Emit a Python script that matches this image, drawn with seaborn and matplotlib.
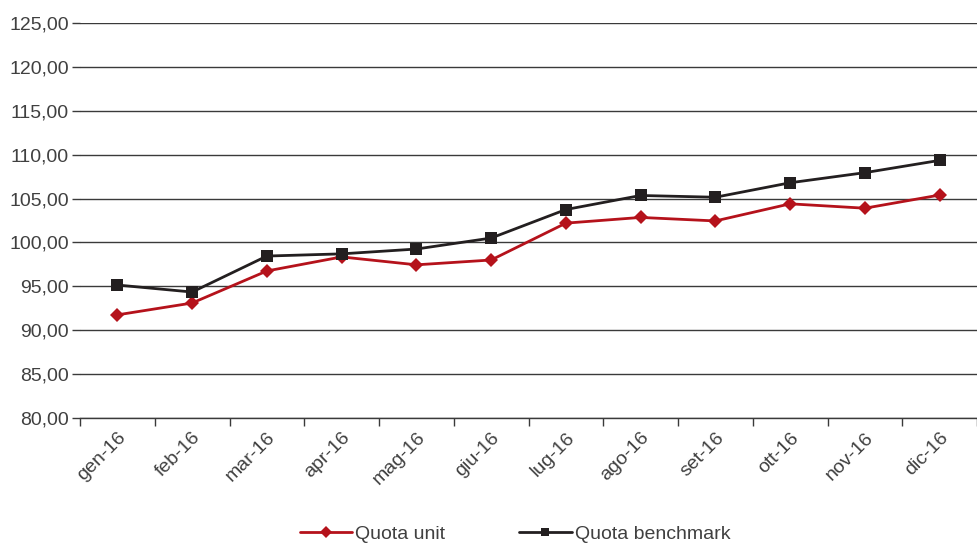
import pandas as pd
import numpy as np
import matplotlib
matplotlib.use('Agg')
import matplotlib.pyplot as plt
import matplotlib.ticker as mticker
import seaborn as sns

sns.set_theme(style='white')
plt.rcParams['font.family'] = ['Liberation Sans', 'DejaVu Sans']

# ── data ───────────────────────────────────────────────────────────────────────
months = ['gen-16', 'feb-16', 'mar-16', 'apr-16', 'mag-16', 'giu-16',
          'lug-16', 'ago-16', 'set-16', 'ott-16', 'nov-16', 'dic-16']
quota_unit = [91.75, 93.1, 96.75, 98.35, 97.45, 98.0,
              102.2, 102.85, 102.45, 104.4, 103.9, 105.4]
quota_bench = [95.15, 94.35, 98.45, 98.7, 99.25, 100.5,
               103.75, 105.35, 105.15, 106.8, 107.95, 109.35]

RED = '#b5121b'
BLACK = '#231f20'
GRID = '#3a3a3a'
TXT = '#404040'
FS = 14

df = pd.DataFrame({
    'x': list(range(len(months))) * 2,
    'value': quota_unit + quota_bench,
    'series': ['Quota unit'] * len(months) + ['Quota benchmark'] * len(months),
})

fig = plt.figure(figsize=(9.77, 5.43), dpi=100)
ax = fig.add_axes([80 / 977, 1 - 418 / 543, 897 / 977, 395 / 543])

sns.lineplot(data=df, x='x', y='value', hue='series', style='series',
             palette={'Quota unit': RED, 'Quota benchmark': BLACK},
             markers={'Quota unit': 'D', 'Quota benchmark': 's'},
             dashes=False, markersize=7, linewidth=2, markeredgewidth=0,
             ax=ax, legend=False)
# squares a bit bigger than diamonds
for line in ax.lines:
    if line.get_marker() == 's':
        line.set_markersize(8)

ax.set_ylim(80, 125)
ax.set_xlim(-0.5, len(months) - 0.5)
ax.yaxis.set_major_locator(mticker.MultipleLocator(5))
ax.yaxis.set_major_formatter(mticker.FuncFormatter(lambda v, p: f'{v:.2f}'.replace('.', ',')))
ax.yaxis.grid(True, color=GRID, linewidth=1)
ax.set_axisbelow(True)

ax.set_xticks(range(len(months)))
ax.set_xticklabels(months, rotation=45, ha='right', rotation_mode='anchor')
ax.set_xticks(np.arange(-0.5, len(months), 1), minor=True)
ax.tick_params(axis='x', which='major', length=0, pad=8, labelsize=FS, labelcolor=TXT)
ax.tick_params(axis='x', which='minor', length=6, width=1, color=GRID, direction='out', bottom=True)
ax.tick_params(axis='y', length=6, width=1, color=GRID, direction='out', left=True,
               labelsize=FS, labelcolor=TXT, pad=2)

for s in ['top', 'right', 'left']:
    ax.spines[s].set_visible(False)
ax.spines['bottom'].set_color(GRID)
ax.spines['bottom'].set_linewidth(1)
ax.set_xlabel('')
ax.set_ylabel('')

handles = [plt.Line2D([], [], color=RED, marker='D', markersize=6, linewidth=2, markeredgewidth=0),
           plt.Line2D([], [], color=BLACK, marker='s', markersize=6, linewidth=2, markeredgewidth=0)]
fig.legend(handles, ['Quota unit', 'Quota benchmark'], loc='center',
           bbox_to_anchor=(515 / 977, 1 - 534 / 543), ncol=2, frameon=False,
           fontsize=FS, labelcolor=TXT, handlelength=2.7, handletextpad=0.15,
           columnspacing=3.8)

plt.savefig('out.png', dpi=100)
plt.close()
